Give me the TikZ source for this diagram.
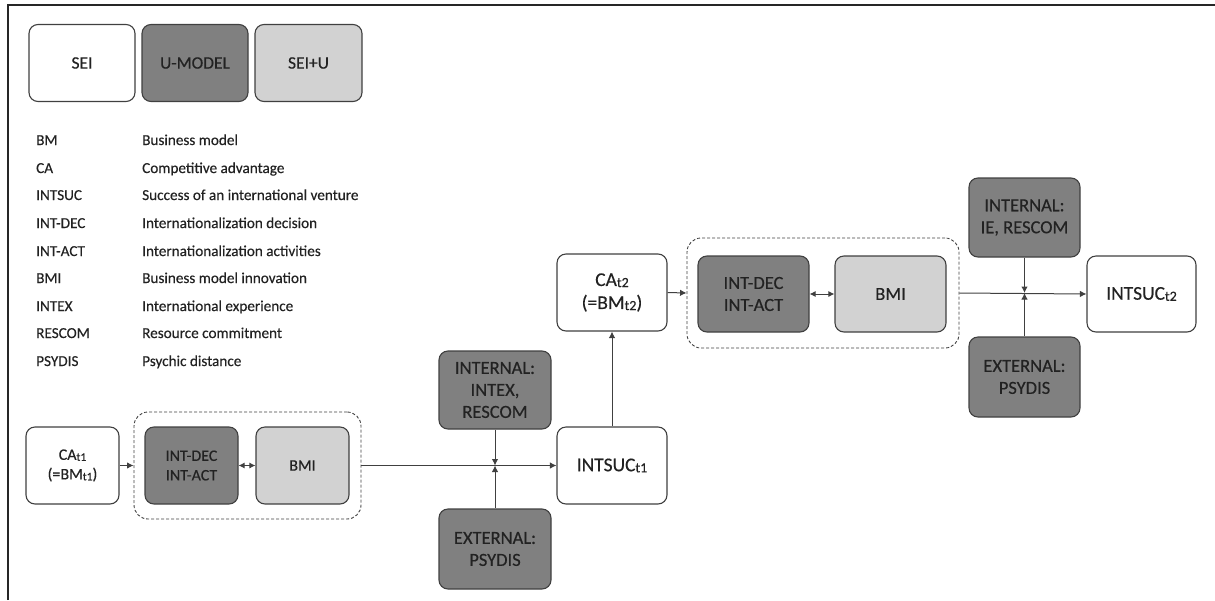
\documentclass[tikz,border=0pt]{standalone}
\usepackage{fontspec}
\setmainfont{Carlito}[FakeBold=0.35]
\usetikzlibrary{arrows.meta}
\definecolor{ink}{HTML}{222222}
\definecolor{edge}{HTML}{404040}
\definecolor{darkfill}{HTML}{808080}
\definecolor{lightfill}{HTML}{D2D2D2}
\newcommand{\tsub}[1]{\raisebox{-0.12ex}{\scalebox{0.72}{#1}}}
\tikzset{
  box/.style={rounded corners=9pt, draw=edge, line width=1.1pt, align=center,
    text=ink, inner sep=0pt},
  whitebox/.style={box, fill=white},
  darkbox/.style={box, fill=darkfill},
  lightbox/.style={box, fill=lightfill},
  group/.style={draw=edge, dashed, dash pattern=on 3pt off 2pt, line width=0.9pt,
    rounded corners=14pt, inner sep=0pt},
  keybox/.style={minimum width=106, minimum height=77, font=\fontsize{17.5}{20}\selectfont},
  small/.style={font=\fontsize{16}{19.5}\selectfont},
  big/.style={font=\fontsize{18.5}{22}\selectfont},
  bigger/.style={font=\fontsize{19.5}{23}\selectfont},
  legkey/.style={anchor=base west, text=ink, inner sep=0pt,
    font=\fontsize{15.2}{18}\selectfont},
  conn/.style={draw=edge, line width=1pt},
  tip/.style={-{Latex[length=6.5pt,width=6.5pt]}},
  tips/.style={{Latex[length=6pt,width=6pt]}-{Latex[length=6pt,width=6pt]}},
}
\begin{document}
\begin{tikzpicture}[x=1pt, y=-1pt]
\useasboundingbox (0,0) rectangle (1215,600);
% frame lines
\draw[line width=1.8pt, black!85] (8,600) -- (8,5) -- (1215,5);

% legend boxes
\node[whitebox, keybox] (lsei) at (82,63) {SEI};
\node[darkbox, keybox] (lu) at (195,63) {U-MODEL};
\node[lightbox, keybox, minimum width=107] (lseiu) at (308.5,63) {SEI+U};

% abbreviations
\foreach \k/\d/\y [count=\i] in {BM/Business model/140, CA/Competitive advantage/168,
  INTSUC/Success of an international venture/195, INT-DEC/Internationalization decision/223,
  INT-ACT/Internationalization activities/251, BMI/Business model innovation/278,
  INTEX/International experience/306, RESCOM/Resource commitment/333,
  PSYDIS/Psychic distance/361} {
  \node[legkey] (k\i) at (36,\y+5) {\k};
  \node[legkey] (d\i) at (142,\y+5) {\d};
}

% first period
\node[group, minimum width=227, minimum height=107] (g1) at (247.5,465.5) {};
\node[whitebox, small, minimum width=93, minimum height=77] (ca1) at (72.5,465.5) {CA\tsub{t1}\\(=BM\tsub{t1})};
\node[darkbox, small, minimum width=93, minimum height=77] (id1) at (191.5,465.5) {INT-DEC\\INT-ACT};
\node[lightbox, small, minimum width=93, minimum height=77] (bm1) at (302.5,465.5) {BMI};
\node[whitebox, bigger, minimum width=110, minimum height=77] (su1) at (612,465.5) {INTSUC\tsub{t1}};
\node[darkbox, big, minimum width=112, minimum height=78] (in1) at (495,390) {INTERNAL:\\INTEX,\\RESCOM};
\node[darkbox, big, minimum width=112, minimum height=80] (ex1) at (495,549) {EXTERNAL:\\PSYDIS};

% second period
\node[group, minimum width=272, minimum height=110] (g2) at (823,293) {};
\node[whitebox, bigger, minimum width=110, minimum height=77] (ca2) at (612,292.5) {CA\tsub{t2}\\(=BM\tsub{t2})};
\node[darkbox, big, minimum width=111, minimum height=76] (id2) at (753.5,294) {INT-DEC\\INT-ACT};
\node[lightbox, big, minimum width=111, minimum height=76] (bm2) at (890.5,294) {BMI};
\node[whitebox, bigger, minimum width=109, minimum height=76] (su2) at (1141.5,294) {INTSUC\tsub{t2}};
\node[darkbox, big, minimum width=111, minimum height=79] (in2) at (1024.5,217.5) {INTERNAL:\\IE, RESCOM};
\node[darkbox, big, minimum width=111, minimum height=80] (ex2) at (1024.5,377) {EXTERNAL:\\PSYDIS};

% junctions where the moderators meet the main path
\coordinate (j1) at (in1.south |- g1.east);
\coordinate (j2) at (in2.south |- g2.east);

% connectors
\draw[conn, tip] (ca1.east) -- (g1.west);
\draw[conn, tips] (id1.east) -- (bm1.west);
\draw[conn, tip] (g1.east) -- (su1.west);
\draw[conn, tip] (in1.south) -- (j1);
\draw[conn, tip] (ex1.north) -- (j1);
\draw[conn, tip] (su1.north) -- (ca2.south);
\draw[conn, tip] (ca2.east) -- (g2.west);
\draw[conn, tips] (id2.east) -- (bm2.west);
\draw[conn, tip] (g2.east) -- (su2.west);
\draw[conn, tip] (in2.south) -- (j2);
\draw[conn, tip] (ex2.north) -- (j2);
\end{tikzpicture}
\end{document}
